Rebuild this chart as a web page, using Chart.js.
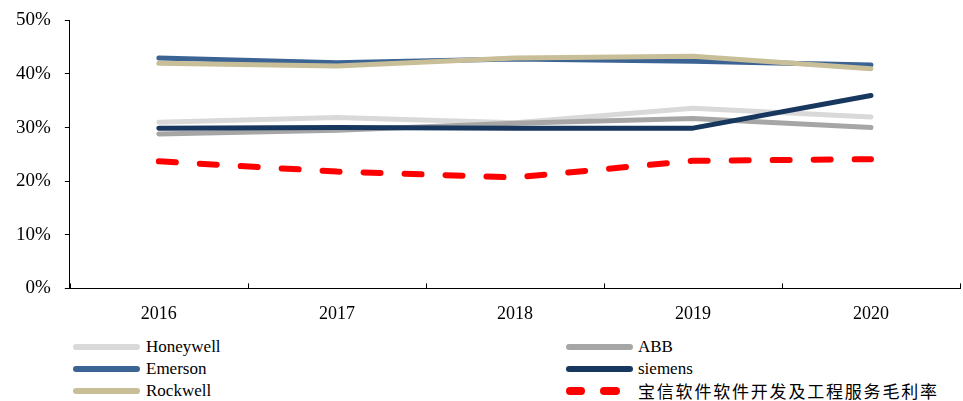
<!DOCTYPE html>
<html><head><meta charset="utf-8">
<script src="https://cdn.jsdelivr.net/npm/chart.js@4/dist/chart.umd.min.js"></script>
<style>
html,body{margin:0;padding:0;background:#fff;overflow:hidden;}
#wrap{position:relative;width:963px;height:401px;overflow:hidden;}
#cv{position:absolute;left:0;top:-5px;}
.lg{position:absolute;font-family:"Liberation Serif","Times New Roman",serif;font-size:17px;color:#000;line-height:20px;height:20px;white-space:nowrap;}
.cjk{font-family:"Noto Sans CJK SC",serif;font-size:17px;letter-spacing:1.8px;}
</style></head><body>
<div id="wrap"><canvas id="cv" width="963" height="337"></canvas></div>
<script>
const categories = ["2016","2017","2018","2019","2020"];
const honeywell = [31.0, 31.9, 30.9, 33.6, 32.0];
const abb       = [28.8, 29.5, 30.8, 31.7, 30.0];
const emerson   = [43.0, 42.1, 42.8, 42.4, 41.7];
const siemens   = [29.9, 30.0, 29.9, 29.9, 36.0];
const rockwell  = [42.0, 41.5, 43.0, 43.3, 41.0];
const baosight  = [23.7, 21.8, 20.7, 23.8, 24.1];
const seriesNames = ["Honeywell","ABB","Emerson","siemens","Rockwell","宝信软件软件开发及工程服务毛利率"];
const yTicks = [0,10,20,30,40,50];

const colors = ["#d9d9d9","#a6a6a6","#3b6494","#17375e","#c8bf98","#ff0000"];
const values = [honeywell, abb, emerson, siemens, rockwell, baosight];
const orders = [5,4,3,1,2,0];

const datasets = values.map((v,i)=>({
  label: seriesNames[i], data: v, borderColor: colors[i], backgroundColor: colors[i],
  borderWidth: i===5?6:5, pointRadius:0, tension:0, fill:false,
  borderCapStyle:'round', borderJoinStyle:'round',
  borderDash: i===5?[17,24]:[], order: orders[i]
}));

const upTicks = {
  id:'upTicks',
  afterDraw(chart){
    const x = chart.scales.x, ctx = chart.ctx, b = chart.chartArea.bottom;
    ctx.save(); ctx.strokeStyle='#000'; ctx.lineWidth=1;
    for(let i=0;i<=categories.length;i++){
      const px = Math.round(x.getPixelForValue(i-0.5))+0.5;
      ctx.beginPath(); ctx.moveTo(px,b); ctx.lineTo(px,b-5); ctx.stroke();
    }
    ctx.restore();
  }
};

new Chart(document.getElementById('cv'),{
  type:'line',
  data:{labels:categories, datasets},
  plugins:[upTicks],
  options:{
    responsive:false, animation:false,
    layout:{padding:{left:2,right:3,top:9,bottom:0}},
    plugins:{legend:{display:false},tooltip:{enabled:false}},
    scales:{
      x:{offset:true,
        grid:{display:false,drawOnChartArea:false},
        border:{display:true,color:'#000',width:1},
        ticks:{color:'#000',font:{family:'Liberation Serif',size:18},padding:7,maxRotation:0}
      },
      y:{min:0,max:50,
        afterBuildTicks(s){s.ticks=yTicks.map(v=>({value:v}));},
        grid:{drawOnChartArea:false,drawTicks:true,tickLength:5,color:'#000'},
        border:{display:true,color:'#000',width:1},
        ticks:{color:'#000',font:{family:'Liberation Serif',size:19},padding:14,callback:v=>v+'%'}
      }
    }
  }
});

// legend
const wrap = document.getElementById('wrap');
const legPos = [[73,146,337],[566,638,337],[73,146,359],[566,638,359],[73,146,381],[566,638,381]];
seriesNames.forEach((n,i)=>{
  const [sx,tx,y]=legPos[i];
  if(i===5){
    [[0,19],[34,20]].forEach(([o,w])=>{
      const d=document.createElement('div');
      d.style.cssText=`position:absolute;left:${sx+o}px;top:${y+6}px;width:${w}px;height:8px;border-radius:4px;background:${colors[i]}`;
      wrap.appendChild(d);
    });
  } else {
    const d=document.createElement('div');
    d.style.cssText=`position:absolute;left:${sx}px;top:${y+7}px;width:67px;height:6px;border-radius:3px;background:${colors[i]}`;
    wrap.appendChild(d);
  }
  const t=document.createElement('div');t.className='lg'+(i===5?' cjk':'');
  t.style.left=tx+'px';t.style.top=y+'px';t.textContent=n;wrap.appendChild(t);
});
</script>
</body></html>
